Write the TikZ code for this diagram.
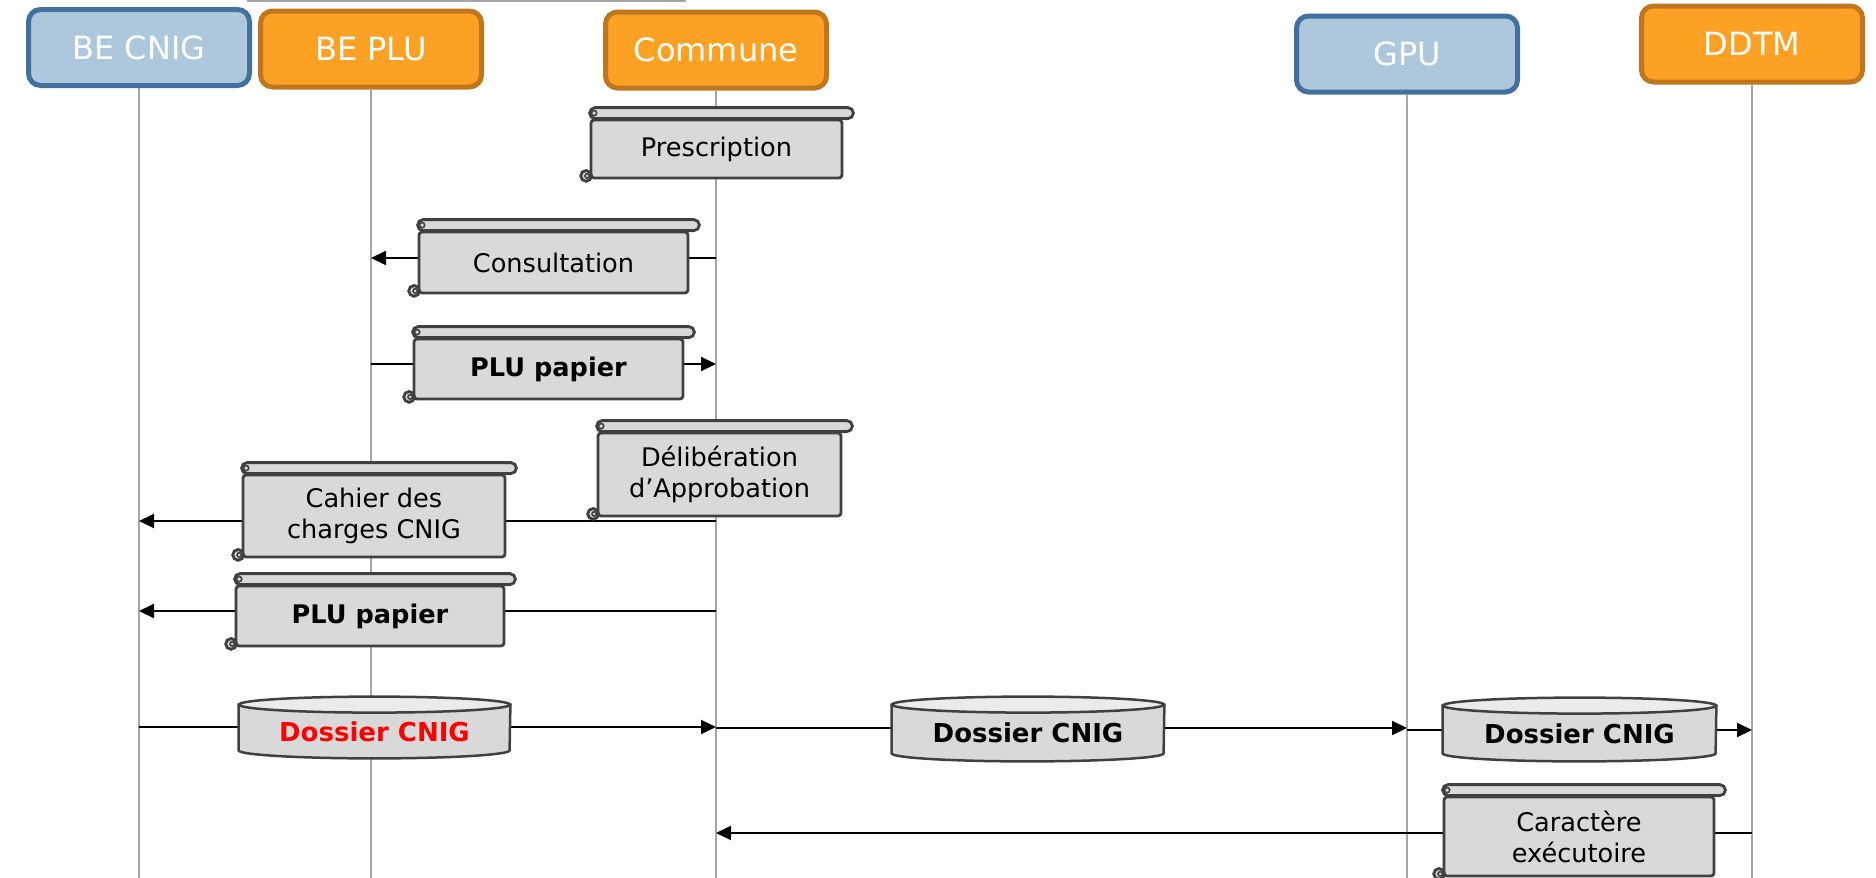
\documentclass[tikz,border=0pt]{standalone}
\usepackage{fontspec}
\setmainfont{DejaVu Sans}
\usetikzlibrary{arrows.meta}
\pgfdeclarelayer{bg}
\pgfdeclarelayer{mid}
\pgfsetlayers{bg,mid,main}

\definecolor{cnigblue}{HTML}{ADC8DD}
\definecolor{cnigbluedark}{HTML}{41719C}
\definecolor{pluorange}{HTML}{FDA125}
\definecolor{pluorangedark}{HTML}{C0761C}
\definecolor{scrollgray}{HTML}{D9D9D9}
\definecolor{scrolledge}{HTML}{404040}
\definecolor{lifegray}{HTML}{A6A6A6}
\definecolor{drumtop}{HTML}{EBEBEB}

% roll and curls of a scroll node
\newcommand\scrollbits[1]{%
  \draw[scrollline,rounded corners=2.75pt] (#1.north west) rectangle ([xshift=5pt,yshift=5.5pt]#1.north east);
  \draw[curl] ([xshift=2.25pt,yshift=2.75pt]#1.north west) circle[radius=1.3pt];
  \draw[scrollline] ([xshift=-1.75pt,yshift=1.75pt]#1.south west) circle[radius=2.7pt];
  \draw[curl] ([xshift=-1.2pt,yshift=1.75pt]#1.south west) circle[radius=1.1pt];
}
% drum (cylinder) round a node
\newcommand\drumbits[2]{%
  \begin{pgfonlayer}{mid}
  \draw[drumline,fill=scrollgray] (#1.north west) -- ([yshift=4pt]#1.south west)
    arc[start angle=180,end angle=360,x radius=#2,y radius=4pt] -- (#1.north east) -- cycle;
  \draw[drumline,fill=drumtop] (#1.north) ellipse[x radius=#2,y radius=4pt];
  \end{pgfonlayer}
}

\begin{document}
\begin{tikzpicture}[x=0.5pt,y=-0.5pt,
    actor/.style={rounded corners=6pt,line width=2.5pt,minimum width=110.5pt,minimum height=38pt,text=white,font=\fontsize{16}{19}\selectfont},
    blueactor/.style={actor,draw=cnigbluedark,fill=cnigblue},
    orangeactor/.style={actor,draw=pluorangedark,fill=pluorange},
    lifeline/.style={draw=lifegray,line width=1pt},
    msg/.style={line width=1pt,-{Triangle[length=7.5pt,width=7pt]}},
    scroll/.style={draw=scrolledge,fill=scrollgray,line width=1.4pt,rounded corners=1.5pt,align=center,font=\fontsize{12.8}{15.5}\selectfont},
    scrollline/.style={draw=scrolledge,fill=scrollgray,line width=1.4pt},
    curl/.style={draw=scrolledge,line width=0.8pt},
    drum/.style={inner sep=0pt,font=\bfseries\fontsize{13}{15.5}\selectfont},
    drumline/.style={draw=scrolledge,line width=1.25pt}]
  \useasboundingbox (0,0) rectangle (1876,878);
  \coordinate (bottom) at (0,878);
  \draw[draw=gray!70,line width=1pt] (247,0.7) -- (686,0.7);

  % actors
  \node[blueactor] (becnig) at (139,47.5) {BE CNIG};
  \node[orangeactor] (beplu) at (371,49) {BE PLU};
  \node[orangeactor] (commune) at (716,50) {Commune};
  \node[blueactor] (gpu) at (1407,54) {GPU};
  \node[orangeactor] (ddtm) at (1752,44) {DDTM};

  % documents
  \node[scroll,minimum width=125.5pt,minimum height=29pt] (presc) at (716.5,149) {Prescription};
  \node[scroll,minimum width=134.5pt,minimum height=30.5pt] (consult) at (553.5,262.5) {Consultation};
  \node[scroll,minimum width=134.5pt,minimum height=30pt,font=\bfseries\fontsize{12.8}{15.5}\selectfont] (plupap) at (548.5,369) {PLU papier};
  \node[scroll,minimum width=121.5pt,minimum height=41.5pt] (delib) at (719.5,474.5) {Délibération\\d’Approbation};
  \node[scroll,minimum width=131pt,minimum height=41pt] (cahier) at (374,516) {Cahier des\\charges CNIG};
  \node[scroll,minimum width=134pt,minimum height=30pt,font=\bfseries\fontsize{12.8}{15.5}\selectfont] (plupapb) at (370,616) {PLU papier};
  \node[scroll,minimum width=135pt,minimum height=39.5pt] (caract) at (1579,836.5) {Caractère\\exécutoire};
  \foreach \s in {presc,consult,plupap,delib,cahier,plupapb,caract}
    {\scrollbits{\s}}

  \node[drum,minimum width=135.5pt,minimum height=26.5pt,text=red] (dosa) at (374.5,731.5) {Dossier CNIG};
  \node[drum,minimum width=136pt,minimum height=28pt] (dosb) at (1028,733) {Dossier CNIG};
  \node[drum,minimum width=136.5pt,minimum height=27.5pt] (dosc) at (1579.5,733.5) {Dossier CNIG};
  \drumbits{dosa}{67.75pt}
  \drumbits{dosb}{68pt}
  \drumbits{dosc}{68.25pt}

  % message heights
  \coordinate (m1) at (0,258);
  \coordinate (m2) at (0,364);
  \coordinate (m3) at (0,521);
  \coordinate (m4) at (0,611);
  \coordinate (m5) at (0,727);
  \coordinate (m6) at (0,728);
  \coordinate (m7) at (0,730);
  \coordinate (m8) at (0,833);

  \begin{pgfonlayer}{bg}
    \foreach \a in {becnig,beplu,commune,gpu,ddtm}
      \draw[lifeline] (\a.south) -- (\a.south |- bottom);
    \draw[msg] (commune |- m1) -- (beplu |- m1);
    \draw[msg] (beplu |- m2) -- (commune |- m2);
    \draw[msg] (commune |- m3) -- (becnig |- m3);
    \draw[msg] (commune |- m4) -- (becnig |- m4);
    \draw[msg] (becnig |- m5) -- (commune |- m5);
    \draw[msg] (commune |- m6) -- (gpu |- m6);
    \draw[msg] (gpu |- m7) -- (ddtm |- m7);
    \draw[msg] (ddtm |- m8) -- (commune |- m8);
  \end{pgfonlayer}
\end{tikzpicture}
\end{document}
